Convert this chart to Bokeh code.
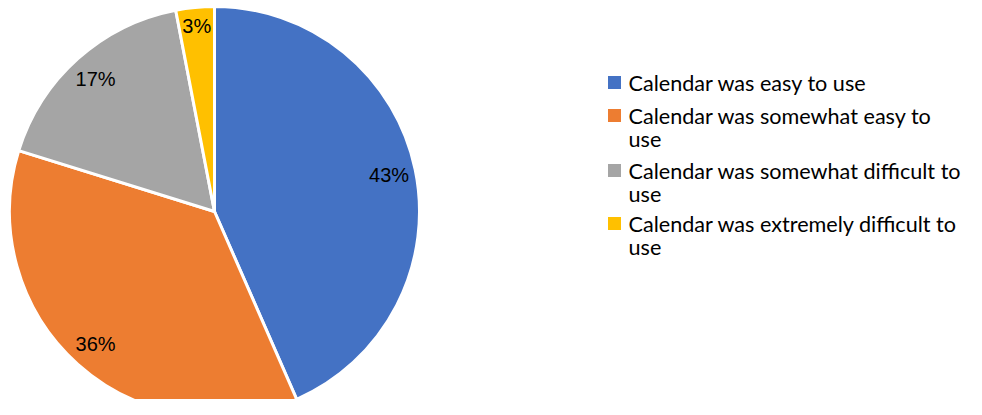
import math
from bokeh.plotting import figure
from bokeh.models import ColumnDataSource, Range1d
from bokeh.core.properties import value
from bokeh.embed import file_html
from bokeh.resources import INLINE

categories = [
    "Calendar was easy to use",
    "Calendar was somewhat easy to use",
    "Calendar was somewhat difficult to use",
    "Calendar was extremely difficult to use",
]
legend_lines = [
    ["Calendar was easy to use"],
    ["Calendar was somewhat easy to", "use"],
    ["Calendar was somewhat difficult to", "use"],
    ["Calendar was extremely difficult to", "use"],
]
percents = [43, 36, 17, 3]
colors = ["#4472C4", "#ED7D31", "#A5A5A5", "#FFC000"]

W, H = 966, 399
p = figure(width=W, height=H, output_backend="svg", toolbar_location=None,
           x_range=Range1d(0, W), y_range=Range1d(0, H), min_border=0,
           outline_line_color=None)
p.axis.visible = False
p.grid.visible = False
p.background_fill_color = "white"
p.border_fill_color = "white"

cx, cy, R = 214, 188, 205
total = sum(percents)
starts, ends, lx, ly, labels = [], [], [], [], []
cum = 0.0
for v in percents:
    f0 = cum / total
    f1 = (cum + v) / total
    starts.append(math.pi / 2 - f0 * 2 * math.pi)
    ends.append(math.pi / 2 - f1 * 2 * math.pi)
    mid = (f0 + f1) / 2 * 2 * math.pi
    rr = 0.87 * R if v > 5 else 0.91 * R
    lx.append(cx + rr * math.sin(mid))
    ly.append(cy + rr * math.cos(mid))
    labels.append(f"{v}%")
    cum += v

src = ColumnDataSource(dict(start=starts, end=ends, color=colors,
                            lx=lx, ly=ly, label=labels))
p.wedge(x=cx, y=cy, radius=R, radius_units="screen", start_angle="start",
        end_angle="end", direction="clock", fill_color="color",
        line_color="white", line_width=3, source=src)
p.text(x="lx", y="ly", text="label", source=src, text_align="center",
       text_baseline="middle", text_font=value("Liberation Sans"),
       text_font_size="20px", text_color="#000000")

# legend
entry_top = [317, 284, 229, 176]
line_gap = 23.5
sq_x, sq_y, t_x, t_y, t_text = [], [], [], [], []
for i, lines in enumerate(legend_lines):
    sq_x.append(614)
    sq_y.append(entry_top[i])
    for j, ln in enumerate(lines):
        t_x.append(628)
        t_y.append(entry_top[i] - j * line_gap)
        t_text.append(ln)

ssrc = ColumnDataSource(dict(x=sq_x, y=sq_y, color=colors))
tsrc = ColumnDataSource(dict(x=t_x, y=t_y, text=t_text))
p.rect(x="x", y="y", width=13, height=13, width_units="screen",
       height_units="screen", fill_color="color", line_color=None, source=ssrc)
p.text(x="x", y="y", text="text", source=tsrc, text_align="left",
       text_baseline="middle", text_font=value("Lato"), text_font_size="21.6px",
       text_color="#000000")

open("out.html", "w").write(file_html(p, INLINE))
